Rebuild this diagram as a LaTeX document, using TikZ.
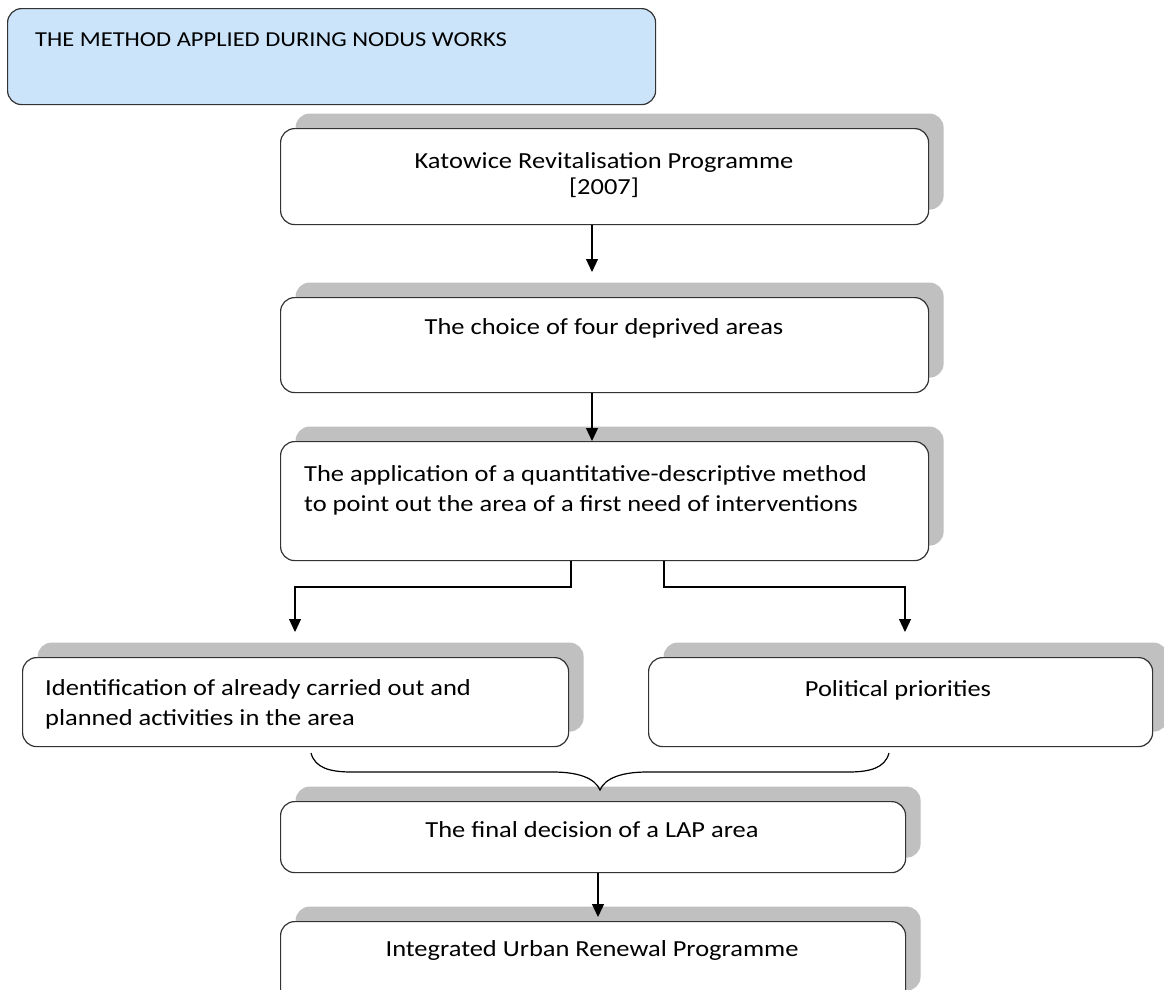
\documentclass[tikz,border=0pt]{standalone}
\usepackage{fontspec}
\setmainfont{Carlito}
\newfontfamily\wide{Carlito}[FakeStretch=1.15]
\usetikzlibrary{arrows.meta,shadows,calc}
\definecolor{shadowgray}{HTML}{C0C0C0}
\definecolor{edge}{HTML}{333333}
\definecolor{titleblue}{HTML}{CCE4FA}
\begin{document}
\begin{tikzpicture}[x=1pt,y=-1pt,
  box/.style={draw=edge, line width=1.2pt, rounded corners=14pt, fill=white,
    anchor=north west, inner sep=0pt,
    general shadow={fill=shadowgray, shadow xshift=15pt, shadow yshift=15pt}},
  titlebox/.style={draw=edge, line width=1.2pt, rounded corners=14pt, fill=titleblue,
    anchor=north west, inner sep=0pt},
  txt/.style={font=\wide\fontsize{23}{26}\selectfont, inner sep=0pt, text=black},
  conn/.style={draw=black, line width=1.2pt},
  arr/.style={conn, -{Triangle[length=13pt,width=12pt]}}]
\clip (0,0) rectangle (1164,989);
\useasboundingbox (0,0) rectangle (1164,989);
\fill[white] (0,0) rectangle (1164,989);

% title
\node[titlebox, minimum width=648pt, minimum height=96pt] (title) at (7,8) {};
\node[txt, anchor=west, font=\wide\fontsize{21.3}{24}\selectfont] (titletext) at (35,40) {THE METHOD APPLIED DURING NODUS WORKS};

% boxes
\node[box, minimum width=648pt, minimum height=96pt] (b1) at (280,128) {};
\node[box, minimum width=648pt, minimum height=95pt] (b2) at (280,297) {};
\node[box, minimum width=648pt, minimum height=119pt] (b3) at (280,441) {};
\node[box, minimum width=546pt, minimum height=89pt] (b4) at (22,657) {};
\node[box, minimum width=504pt, minimum height=89pt] (b5) at (648,657) {};
\node[box, minimum width=625pt, minimum height=71pt] (b6) at (280,801) {};
\node[box, minimum width=625pt, minimum height=84pt] (b7) at (280,921) {};

% texts
\node[txt, align=center] (t1) at (604,175) {Katowice Revitalisation Programme\\{[2007]}};
\node[txt] (t2) at (604,328) {The choice of four deprived areas};
\node[txt, align=left, anchor=north west, font=\wide\fontsize{23}{30}\selectfont] (t3) at (304,465) {The application of a quantitative-descriptive method\\to point out the area of a first need of interventions};
\node[txt, align=left, anchor=north west, font=\wide\fontsize{23}{30}\selectfont] (t4) at (45,679) {Identification of already carried out and\\planned activities in the area};
\node[txt] (t5) at (898,690) {Political priorities};
\node[txt] (t6) at (592,830) {The final decision of a LAP area};
\node[txt] (t7) at (592,950) {Integrated Urban Renewal Programme};

% connectors
\coordinate (a1) at (592,272);
\coordinate (s1) at (571,587);
\coordinate (s2) at (664,587);
\coordinate (L) at (295,632);
\coordinate (R) at (905,632);
\coordinate (a6) at (598,917);
\draw[arr] (b1.south -| a1) -- (a1);
\draw[arr] (b2.south -| a1) -- (b3.north -| a1);
\draw[arr] (b3.south -| s1) -- (s1) -| (L);
\draw[arr] (b3.south -| s2) -- (s2) -| (R);
\draw[arr] (b6.south -| a6) -- (a6);

% brace
\draw[conn] (311,753) .. controls (315,768) and (330,772) .. (352,772) -- (553,772)
  .. controls (578,772) and (595,778) .. (600,790)
  .. controls (605,778) and (622,772) .. (647,772) -- (848,772)
  .. controls (870,772) and (885,768) .. (889,753);
\end{tikzpicture}
\end{document}
